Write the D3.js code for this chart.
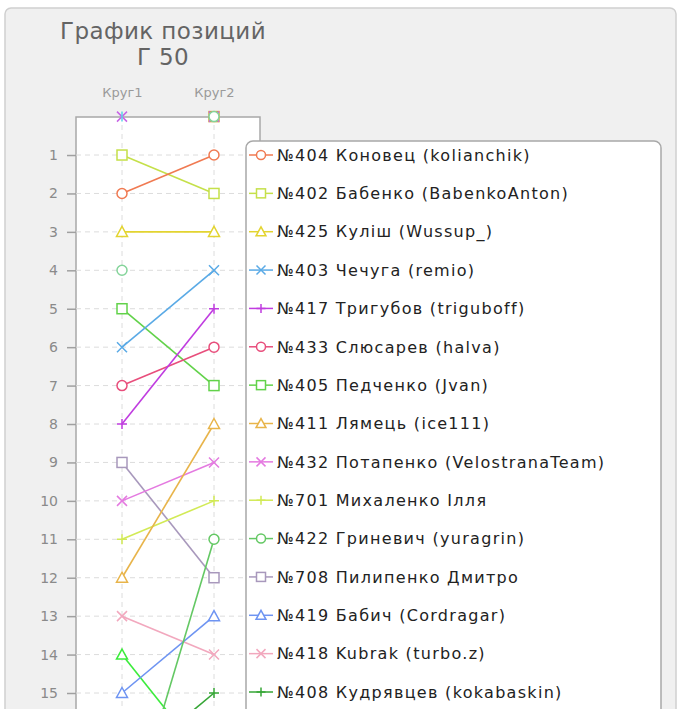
<!DOCTYPE html>
<html><head><meta charset="utf-8">
<script src="https://cdn.jsdelivr.net/npm/d3@7"></script>
<style>html,body{margin:0;padding:0;background:#fff;overflow:hidden}</style>
</head><body>
<svg id="c" width="677" height="709"></svg>
<script>
const titleLines = ["График позиций", "Г 50"];
const rounds = ["Круг1", "Круг2"];
const yTicks = [1,2,3,4,5,6,7,8,9,10,11,12,13,14,15];
const names = [
  "№404 Коновец (kolianchik)",
  "№402 Бабенко (BabenkoAnton)",
  "№425 Куліш (Wussup_)",
  "№403 Чечуга (remio)",
  "№417 Тригубов (triguboff)",
  "№433 Слюсарев (halva)",
  "№405 Педченко (Jvan)",
  "№411 Лямець (ice111)",
  "№432 Потапенко (VelostranaTeam)",
  "№701 Михаленко Ілля",
  "№422 Гриневич (yuragrin)",
  "№708 Пилипенко Дмитро",
  "№419 Бабич (Cordragar)",
  "№418 Kubrak (turbo.z)",
  "№408 Кудрявцев (kokabaskin)",
  "", "", "", "", ""
];
// position per round (0 = not ranked, drawn at the top edge without a line)
const round1 = [2,1,3,6,8,7,5,12,10,11,19,9,15,13,17, 4,14,0,0,20];
const round2 = [1,2,3,4,5,6,7,8,9,10,11,12,13,14,15, 0,17,0,0,0];
const colors = ["#f07a52","#c5e04a","#e3d430","#5aaae6","#c03ce0","#e84e7c","#62d24a","#e8b44a","#e47ae0","#d2ea56","#64c864","#a898bc","#6e94f2","#f2a8be","#36a636",
                "#84d49a","#3cec3c","#5ad4e6","#c864e6","#d0a448"];
const shapes = ["circle","square","triangle","x","plus","circle","square","triangle","x","plus","circle","square","triangle","x","plus",
                "circle","triangle","star","x","square"];

const svg = d3.select("#c");
const font = "'DejaVu Sans', Verdana, sans-serif";

// outer panel
svg.append("rect").attr("x",5).attr("y",8).attr("width",671).attr("height",760).attr("rx",6)
  .attr("fill","#f0f0f0").attr("stroke","#cfcfcf").attr("stroke-width",1.5);

// title
svg.selectAll("text.title").data(titleLines).join("text").attr("class","title")
  .attr("x",163).attr("y",(d,i)=>39+i*26).attr("text-anchor","middle")
  .attr("font-family",font).attr("font-size",23).attr("letter-spacing",0.4).attr("fill","#646464").text(d=>d);

const x = d3.scalePoint().domain(rounds).range([122,214]);
const y = d3.scaleLinear().domain([0,15]).range([116.6,693]);
const plotL = 76, plotR = 260, plotT = 117, plotB = 760;

svg.append("rect").attr("x",plotL).attr("y",plotT).attr("width",plotR-plotL).attr("height",plotB-plotT)
  .attr("fill","#fff").attr("stroke","#a8a8a8").attr("stroke-width",1.5);

// grid
svg.append("g").selectAll("line").data(yTicks).join("line")
  .attr("x1",plotL).attr("x2",plotR).attr("y1",d=>y(d)).attr("y2",d=>y(d))
  .attr("stroke","#dcdcdc").attr("stroke-dasharray","5,4");
svg.append("g").selectAll("line").data(rounds).join("line")
  .attr("x1",d=>x(d)).attr("x2",d=>x(d)).attr("y1",plotT+8).attr("y2",plotB)
  .attr("stroke","#dcdcdc").attr("stroke-dasharray","5,4");

// y axis
const yAxis = d3.axisLeft(y).tickValues(yTicks).tickSize(9).tickPadding(9);
const ya = svg.append("g").attr("transform",`translate(${plotL},0)`).call(yAxis);
ya.select(".domain").remove();
ya.selectAll("line").attr("stroke","#a0a0a0").attr("stroke-width",1.5);
ya.selectAll("text").attr("fill","#8a8a8a").attr("font-size",14).attr("font-family",font);

// top axis labels
const xa = svg.append("g").attr("transform",`translate(0,${plotT})`).call(d3.axisTop(x).tickSize(0).tickPadding(20));
xa.select(".domain").remove();
xa.selectAll("text").attr("fill","#9a9a9a").attr("font-size",13).attr("font-family",font);

function sym(g, shape, color, s) {
  if (shape==="circle") g.append("circle").attr("r",s*0.5).attr("fill","#fff").attr("stroke",color).attr("stroke-width",1.5);
  else if (shape==="square") g.append("rect").attr("x",-s/2).attr("y",-s/2).attr("width",s).attr("height",s).attr("fill","#fff").attr("stroke",color).attr("stroke-width",1.5);
  else if (shape==="triangle") g.append("path").attr("d",`M0,${-s*0.55}L${s*0.55},${s*0.45}L${-s*0.55},${s*0.45}Z`).attr("fill","#fff").attr("stroke",color).attr("stroke-width",1.5);
  else if (shape==="x") g.append("path").attr("d",`M${-s/2},${-s/2}L${s/2},${s/2}M${-s/2},${s/2}L${s/2},${-s/2}`).attr("stroke",color).attr("stroke-width",1.5);
  else if (shape==="plus") g.append("path").attr("d",`M${-s/2},0L${s/2},0M0,${-s/2}L0,${s/2}`).attr("stroke",color).attr("stroke-width",1.5);
  else if (shape==="star") g.append("path").attr("d",`M0,${-s/2}L0,${s/2}`).attr("stroke",color).attr("stroke-width",1.5);
}

const series = names.map((n,i)=>({name:n, vals:[round1[i],round2[i]], color:colors[i], shape:shapes[i]}));
svg.append("clipPath").attr("id","pc").append("rect").attr("x",plotL).attr("y",plotT-8).attr("width",plotR-plotL).attr("height",plotB);
const pg = svg.append("g");
series.slice().reverse().forEach(s=>{
  if (s.vals[0]>0 && s.vals[1]>0) {
    pg.append("path").attr("clip-path","url(#pc)")
      .attr("d", d3.line().x((v,j)=>x(rounds[j])).y(v=>y(v))(s.vals))
      .attr("fill","none").attr("stroke",s.color).attr("stroke-width",1.6);
  }
});
series.slice().reverse().forEach(s=>{
  s.vals.forEach((v,j)=>{
    const g = pg.append("g").attr("transform",`translate(${x(rounds[j])},${y(v)})`);
    sym(g, s.shape, s.color, 10);
  });
});

// legend
const legL = 246, legT = 141;
const ly = d3.scaleLinear().domain([0,14]).range([155,692]);
const legendSeries = series.filter(s=>s.name);
svg.append("rect").attr("x",legL).attr("y",legT).attr("width",415).attr("height",700).attr("rx",7)
  .attr("fill","#fff").attr("stroke","#a8a8a8").attr("stroke-width",1.5);
const li = svg.append("g").selectAll("g").data(legendSeries).join("g")
  .attr("transform",(d,i)=>`translate(${legL},${ly(i)})`);
li.append("line").attr("x1",3).attr("x2",27).attr("stroke",d=>d.color).attr("stroke-width",1.5);
li.each(function(d){ sym(d3.select(this).append("g").attr("transform","translate(15,0)"), d.shape, d.color, 9); });
li.append("text").attr("x",31).attr("dy","0.36em").attr("font-family",font).attr("font-size",16)
  .attr("letter-spacing",1.3).attr("fill","#222").text(d=>d.name);
</script>
</body></html>
